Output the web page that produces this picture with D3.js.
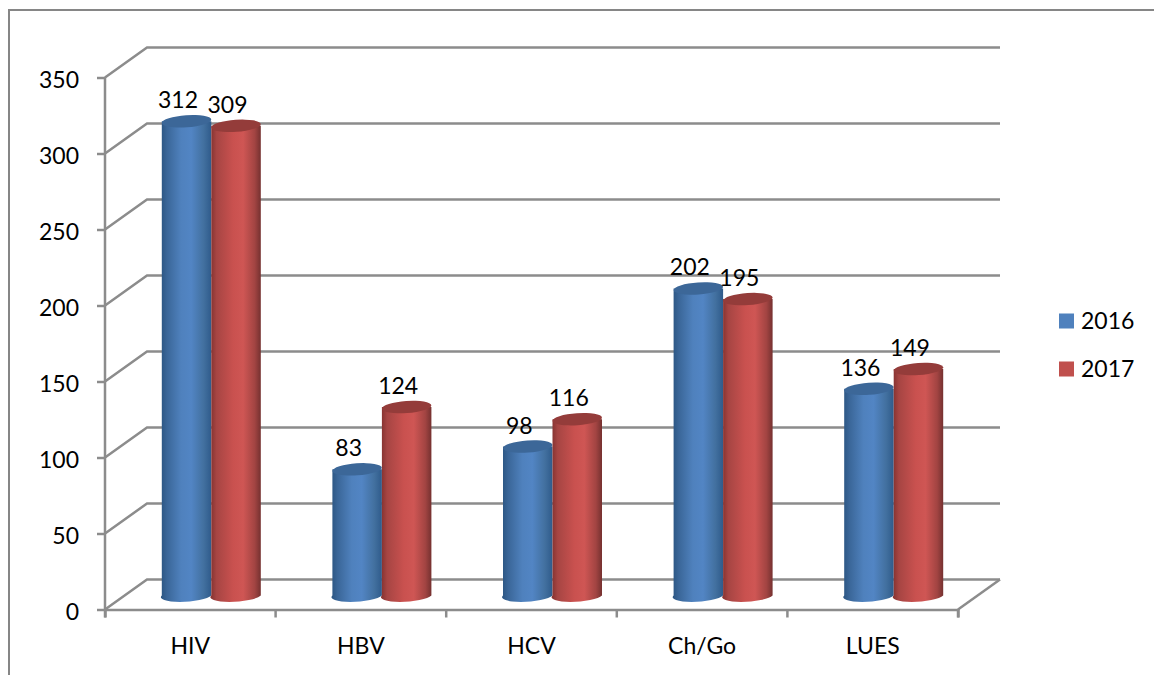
<!DOCTYPE html>
<html>

<head>
	<meta charset="utf-8">
	<title>D3 Example</title>
	<script src="https://cdnjs.cloudflare.com/ajax/libs/d3/7.8.5/d3.min.js"></script>
	<style>
		html, body { margin: 0; padding: 0; background: #fff; }
		svg { display: block; }
		text { font-family: Lato, sans-serif; font-size: 23px; fill: #000; }
	</style>
</head>

<body>
	<div id="chart"></div>
	<script>
    var categories = ["HIV", "HBV", "HCV", "Ch/Go", "LUES"];
    var seriesNames = ["2016", "2017"];
    var values2016 = [312, 83, 98, 202, 136];
    var values2017 = [309, 124, 116, 195, 149];
    var yTicks = [0, 50, 100, 150, 200, 250, 300, 350];

    var width = 1154, height = 675;
    var axisColor = "#8c8c8c";

    // front plane of the fake 3d box, back wall is shifted by depth
    var plot = { left: 105, right: 958, top: 77.5, bottom: 609.5 };
    var depth = { x: 42, y: -30 };
    var barWidth = 49.5, ry = 6;

    var svg = d3.select("#chart").append("svg")
        .attr("width", width)
        .attr("height", height);

    var x = d3.scaleBand().domain(categories).range([plot.left, plot.right]);
    var y = d3.scaleLinear().domain([0, 350]).range([plot.bottom, plot.top]);
    // the bars stand in the middle of the depth
    var barX = d3.scaleBand().domain(categories)
        .range([plot.left + depth.x / 2, plot.right + depth.x / 2]);
    var barY = y.copy().range([plot.bottom + depth.y / 2 + 1, plot.top + depth.y / 2 + 1]);
    var serieX = d3.scaleBand().domain(seriesNames).range([-barWidth, barWidth]);

    var defs = svg.append("defs");
    function gradient(id, stops) {
      var g = defs.append("linearGradient").attr("id", id);
      stops.forEach(function (s) {
        g.append("stop").attr("offset", s[0]).attr("stop-color", s[1]);
      });
    }
    gradient("blueBody", [[0, "#2b5582"], [0.12, "#3a6698"], [0.4, "#4f81bd"], [0.6, "#5285c4"], [0.85, "#42709f"], [1, "#2f5b8b"]]);
    gradient("redBody", [[0, "#83312f"], [0.12, "#a64543"], [0.45, "#c9514f"], [0.65, "#cf5654"], [0.88, "#a24442"], [1, "#753130"]]);

    // frame of the pasted picture
    svg.append("path")
        .attr("d", "M9,675V10H1154")
        .attr("fill", "none")
        .attr("stroke", "#868686")
        .attr("stroke-width", 2);

    // back wall grid and side wall diagonals
    var grid = svg.append("g").attr("fill", "none")
        .attr("stroke", axisColor).attr("stroke-width", 2.5);
    grid.selectAll("path")
        .data(yTicks)
      .enter().append("path")
        .attr("d", function (d) {
          return "M" + plot.left + "," + y(d) +
            "L" + (plot.left + depth.x) + "," + (y(d) + depth.y) +
            "H" + (plot.right + depth.x);
        });
    // floor edge on the right
    grid.append("path")
        .attr("d", "M" + plot.right + "," + y(0) + "L" + (plot.right + depth.x) + "," + (y(0) + depth.y));

    // axes
    var yAxis = svg.append("g")
        .attr("transform", "translate(" + plot.left + ",0)")
        .call(d3.axisLeft(y).tickValues(yTicks).tickSize(8).tickPadding(18));
    var xAxis = svg.append("g")
        .attr("transform", "translate(0," + plot.bottom + ")")
        .call(d3.axisBottom(x).tickValues([]).tickSizeOuter(8));
    xAxis.selectAll(".tick-mark")
        .data(d3.range(categories.length + 1))
      .enter().append("line")
        .attr("x1", function (i) { return plot.left + i * x.bandwidth(); })
        .attr("x2", function (i) { return plot.left + i * x.bandwidth(); })
        .attr("y1", 0)
        .attr("y2", 8);
    xAxis.selectAll(".cat")
        .data(categories)
      .enter().append("text")
        .attr("class", "cat")
        .attr("x", function (d) { return x(d) + x.bandwidth() / 2; })
        .attr("y", 44)
        .attr("text-anchor", "middle")
        .text(function (d) { return d; });
    svg.selectAll(".domain").attr("stroke", axisColor).attr("stroke-width", 2.5);
    svg.selectAll(".tick line").attr("stroke", axisColor).attr("stroke-width", 2.5);
    xAxis.selectAll("line").attr("stroke", axisColor).attr("stroke-width", 2.5);
    yAxis.selectAll("text").style("font-family", "Lato, sans-serif").style("font-size", "23px").attr("dy", "0.44em");
    yAxis.select(".domain").attr("d", "M0," + y(0) + "V" + y(350));

    // cylinders
    var series = [
      { name: "2016", values: values2016, body: "url(#blueBody)", top: "#3c6798", swatch: "#4f81bd" },
      { name: "2017", values: values2017, body: "url(#redBody)", top: "#943c3a", swatch: "#c0504d" }
    ];
    var tilt = -4;

    series.forEach(function (s) {
      var bars = svg.append("g").selectAll("g")
          .data(categories)
        .enter().append("g")
          .attr("transform", function (d) {
            return "translate(" + (barX(d) + barX.bandwidth() / 2 + serieX(s.name)) + ",0)";
          });
      bars.append("path")
          .attr("fill", s.body)
          .attr("d", function (d, i) {
            var t = barY(s.values[i]), b = barY(0), w = serieX.bandwidth();
            return "M0," + t + "V" + b +
              "A" + (w / 2) + "," + ry + " " + tilt + " 0 0 " + w + "," + b +
              "V" + t + "Z";
          });
      bars.append("ellipse")
          .attr("fill", s.top)
          .attr("cx", serieX.bandwidth() / 2)
          .attr("cy", function (d, i) { return barY(s.values[i]); })
          .attr("rx", serieX.bandwidth() / 2)
          .attr("ry", ry)
          .attr("transform", function (d, i) {
            return "rotate(" + tilt + "," + (serieX.bandwidth() / 2) + "," + barY(s.values[i]) + ")";
          });
      bars.append("text")
          .attr("x", serieX.bandwidth() / 2 - 8.5)
          .attr("y", function (d, i) { return barY(s.values[i]) - 13; })
          .attr("text-anchor", "middle")
          .text(function (d, i) { return s.values[i]; });
    });

    // legend
    var legendY = d3.scalePoint().domain(seriesNames).range([321, 369]);
    var legend = svg.append("g").selectAll("g")
        .data(series)
      .enter().append("g")
        .attr("transform", function (d) { return "translate(1059," + legendY(d.name) + ")"; });
    legend.append("rect")
        .attr("y", -7.5)
        .attr("width", 15)
        .attr("height", 15)
        .attr("fill", function (d) { return d.swatch; });
    legend.append("text")
        .attr("x", 22)
        .attr("y", 8)
        .text(function (d) { return d.name; });
    </script>
</body>

</html>
